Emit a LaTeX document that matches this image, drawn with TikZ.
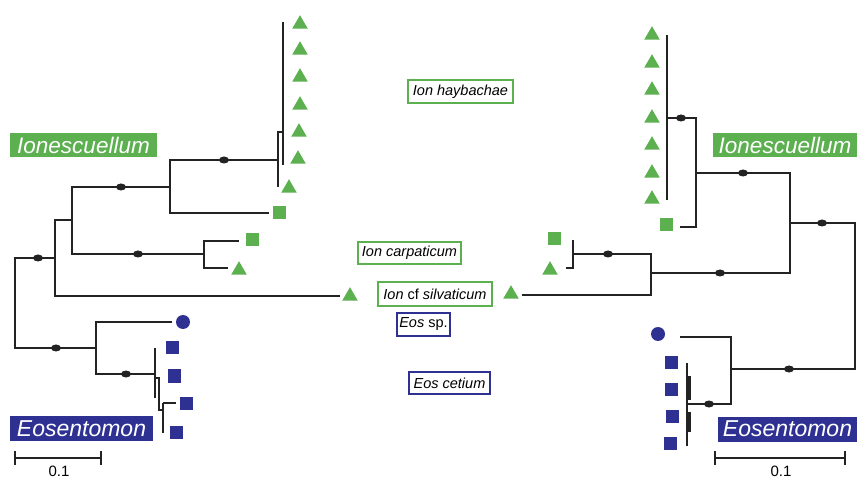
\documentclass[tikz,border=0pt]{standalone}
\usepackage{fontspec}
\setmainfont{Liberation Sans}
\usetikzlibrary{shapes.geometric}
\definecolor{ggreen}{RGB}{92,176,80}
\definecolor{bblue}{RGB}{46,49,146}
\definecolor{brc}{RGB}{35,35,35}
\begin{document}
\begin{tikzpicture}[x=1pt,y=-1pt,
  br/.style={line width=2.6pt, draw=brc, line join=miter},
  bdot/.style={ellipse, fill=brc, minimum width=10pt, minimum height=7pt, inner sep=0pt},
  tri/.style={regular polygon, regular polygon sides=3, fill=ggreen, minimum size=18pt, inner sep=0pt, yshift=-2.2pt},
  gsq/.style={rectangle, fill=ggreen, minimum size=13pt, inner sep=0pt},
  bsq/.style={rectangle, fill=bblue, minimum size=13pt, inner sep=0pt},
  bcirc/.style={circle, fill=bblue, minimum size=14pt, inner sep=0pt},
  glabel/.style={rectangle, fill=ggreen, text=white, inner sep=0pt, minimum height=24pt, font=\fontsize{22.5}{22.5}\selectfont\itshape},
  blabel/.style={rectangle, fill=bblue, text=white, inner sep=0pt, minimum height=25pt, font=\fontsize{23}{23}\selectfont\itshape},
  gbox/.style={rectangle, draw=ggreen, line width=1.2pt, fill=white, inner sep=0pt, font=\fontsize{14.5}{14.5}\selectfont\itshape},
  bbox/.style={rectangle, draw=bblue, line width=1.2pt, fill=white, inner sep=0pt, font=\fontsize{14.5}{14.5}\selectfont\itshape},
  sbar/.style={line width=2.4pt, draw=brc},
  slab/.style={font=\fontsize{15}{15}\selectfont, inner sep=0pt}
]
\useasboundingbox (0,0) rectangle (857,478);

% ================= LEFT TREE =================
\draw[br] (55,258) -- (15,258) -- (15,348) -- (96,348);
\draw[br] (72,220) -- (55,220) -- (55,296) -- (340,296);
\draw[br] (170,187) -- (72,187) -- (72,254) -- (204,254);
\draw[br] (278,160) -- (170,160) -- (170,213) -- (269,213);
\draw[br] (239,241) -- (204,241) -- (204,268) -- (228,268);
% haybachae clade
\draw[br] (283,22) -- (283,165);
\draw[br] (283,132) -- (278,132) -- (278,187);
% Eos group
\draw[br] (172,322) -- (96,322) -- (96,374) -- (155,374);
\draw[br] (155,348) -- (155,398);
\draw[br] (155,378) -- (159,378) -- (159,410) -- (163,410);
\draw[br] (163,403) -- (163,433);
\draw[br] (163,403) -- (176,403);

% dots
\node[bdot] (ld1) at (38,258) {};
\node[bdot] (ld2) at (121,187) {};
\node[bdot] (ld3) at (224,160) {};
\node[bdot] (ld4) at (138,254) {};
\node[bdot] (ld5) at (56,348) {};
\node[bdot] (ld6) at (126,374) {};

% markers
\node[tri] (lt1) at (300,22) {};
\node[tri] (lt2) at (300,48) {};
\node[tri] (lt3) at (300,75) {};
\node[tri] (lt4) at (300,103) {};
\node[tri] (lt5) at (299,130) {};
\node[tri] (lt6) at (298,157) {};
\node[tri] (lt7) at (289,186) {};
\node[gsq] (ls1) at (279,213) {};
\node[gsq] (ls2) at (252,240) {};
\node[tri] (lt8) at (239,268) {};
\node[tri] (lt9) at (350,294) {};
\node[bcirc] (lc1) at (183,322) {};
\node[bsq] (lb1) at (172,348) {};
\node[bsq] (lb2) at (174,376) {};
\node[bsq] (lb3) at (186,403) {};
\node[bsq] (lb4) at (176,432) {};

% labels
\node[glabel, minimum width=147pt] (ionL) at (83.5,145) {Ionescuellum};
\node[blabel, minimum width=143pt] (eosL) at (81.5,428.5) {Eosentomon};

% scale bar
\coordinate (sl1) at (15,458);
\coordinate (sl2) at (101,458);
\draw[sbar] (sl1) -- (sl2);
\draw[sbar] (15,451) -- (15,465);
\draw[sbar] (101,451) -- (101,465);
\node[slab] (slt) at (59,471) {0.1};

% ================= RIGHT TREE =================
\draw[br] (790,223) -- (855,223) -- (855,369) -- (731,369);
\draw[br] (696,173) -- (790,173) -- (790,273) -- (651,273);
\draw[br] (667,118) -- (696,118) -- (696,227) -- (680,227);
\draw[br] (667,35) -- (667,200);
\draw[br] (573,254) -- (651,254) -- (651,295) -- (522,295);
\draw[br] (573,240) -- (573,268) -- (566,268);
\draw[br] (680,337) -- (731,337) -- (731,404) -- (687,404);
\draw[br] (687,363) -- (687,446);
\draw[line width=3.6pt, draw=brc] (689,376) -- (689,400);
\draw[line width=3.6pt, draw=brc] (689,412) -- (689,432);

% dots
\node[bdot] (rd1) at (822,223) {};
\node[bdot] (rd2) at (743,173) {};
\node[bdot] (rd3) at (681,118) {};
\node[bdot] (rd4) at (720,273) {};
\node[bdot] (rd5) at (608,254) {};
\node[bdot] (rd6) at (789,369) {};
\node[bdot] (rd7) at (709,404) {};

% markers
\node[tri] (rt1) at (652,33) {};
\node[tri] (rt2) at (652,61) {};
\node[tri] (rt3) at (652,88) {};
\node[tri] (rt4) at (652,116) {};
\node[tri] (rt5) at (652,143) {};
\node[tri] (rt6) at (652,171) {};
\node[tri] (rt7) at (652,197) {};
\node[gsq] (rs1) at (666,225) {};
\node[gsq] (rs2) at (554,239) {};
\node[tri] (rt8) at (550,268) {};
\node[tri] (rt9) at (511,292) {};
\node[bcirc] (rc1) at (658,334) {};
\node[bsq] (rb1) at (671,363) {};
\node[bsq] (rb2) at (671,389) {};
\node[bsq] (rb3) at (672,416) {};
\node[bsq] (rb4) at (670,443) {};

% labels
\node[glabel, minimum width=144pt] (ionR) at (785,145) {Ionescuellum};
\node[blabel, minimum width=139pt] (eosR) at (787.5,429) {Eosentomon};

% scale bar
\coordinate (sr1) at (715,458);
\coordinate (sr2) at (845,458);
\draw[sbar] (sr1) -- (sr2);
\draw[sbar] (715,451) -- (715,465);
\draw[sbar] (845,451) -- (845,465);
\node[slab] (srt) at (781,471) {0.1};

% ================= CENTER LABELS =================
\node[gbox, minimum width=105pt, minimum height=23pt] (hay) at (460.5,91.5) {Ion haybachae};
\node[gbox, minimum width=103pt, minimum height=22pt] (carp) at (409.5,253) {Ion carpaticum};
\node[gbox, minimum width=114pt, minimum height=24pt] (silv) at (435,294) {Ion {\upshape cf} silvaticum};
\node[bbox, minimum width=53pt, minimum height=23pt] (eossp) at (423.5,324.5) {Eos {\upshape sp.}};
\node[bbox, minimum width=81pt, minimum height=22pt] (cet) at (449.5,383) {Eos cetium};
\end{tikzpicture}
\end{document}
